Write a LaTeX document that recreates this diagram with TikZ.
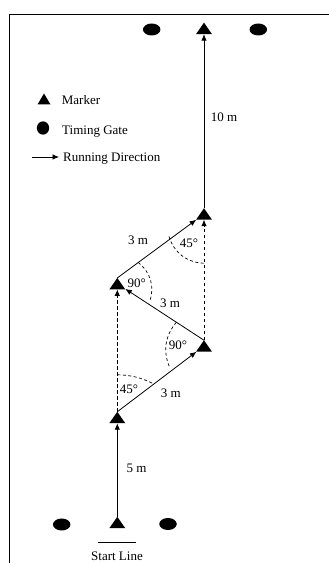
\documentclass[tikz,border=0pt]{standalone}
\usepackage{fontspec}
\setmainfont{Liberation Serif}
\usetikzlibrary{arrows.meta,shapes.geometric,calc}
\begin{document}
\begin{tikzpicture}[x=1pt,y=1pt,
  tri/.style={minimum width=16pt, minimum height=11.5pt, inner sep=0pt, outer sep=0pt,
    path picture={\fill (path picture bounding box.south west) -- (path picture bounding box.south east) -- (path picture bounding box.north) -- cycle;}},
  gate/.style={ellipse, fill, minimum width=17.5pt, minimum height=12pt, inner sep=0pt},
  lbl/.style={inner sep=0pt, text height=8.8pt, text depth=0pt, font=\fontsize{13}{15}\selectfont},
  run/.style={line width=0.8pt, -{Latex[length=6.5pt,width=5.5pt]}},
  guide/.style={run, dash pattern=on 3.5pt off 2.5pt},
  arcd/.style={line width=0.7pt, dash pattern=on 3pt off 2.5pt},
  frame/.style={line width=0.9pt}
]
\useasboundingbox (0,0) rectangle (329,563);
\fill[white] (0,0) rectangle (329,563);
\draw[frame] (9,-2) -- (9,549) -- (331,549);

% markers
\node[tri] (mTop) at (204,534.6) {};
\node[tri] (mUR) at (204,349) {};
\node[tri] (mL) at (117.3,279.3) {};
\node[tri] (mLR) at (204,217) {};
\node[tri] (mLL) at (117.3,145.5) {};
\node[tri] (mS) at (117.3,40.5) {};

% timing gates
\node[gate] (gTL) at (151.7,533.5) {};
\node[gate] (gTR) at (258.3,533.5) {};
\node[gate] (gBL) at (61.7,38.5) {};
\node[gate] (gBR) at (168,39) {};

% start line
\coordinate (sL) at (98,20.3);
\coordinate (sR) at (136,20.3);
\draw[line width=1pt] (sL) -- (sR);
\node[lbl, anchor=base] (startlbl) at (117,2.5) {Start Line};

% route
\draw[run] (mS.north) -- (mLL.south);
\draw[run] (mLL.north) -- (mLR);
\draw[guide] (mLL.north) -- (mL.south);
\draw[run] (mLR.north) -- (mL);
\draw[guide] (mLR.north) -- (mUR.south);
\draw[run] (mL.north) -- (mUR);
\draw[run] (mUR.north) -- (mTop.south);

% angle arcs
\coordinate (A1) at ($(mLL.north)!37pt!(mL.south)$);
\coordinate (B1) at ($(mLL.north)!46pt!(mLR)$);
\draw[arcd] (A1) to[bend left=12] (B1);
\coordinate (A2) at ($(mLR.north)!33pt!(mL)$);
\coordinate (B2) at ($(mLR.north)!44pt!(mLL.north)$);
\draw[arcd] (A2) to[bend right=32] (B2);
\coordinate (A3) at ($(mL.north)!26pt!(mUR)$);
\coordinate (B3) at ($(mL.north)!40pt!(mLR.north)$);
\draw[arcd] (A3) to[bend left=35] (B3);
\coordinate (A4) at ($(mUR.north)!45pt!(mL.north)$);
\coordinate (B4) at ($(mUR.north)!55pt!(mLR.north)$);
\draw[arcd] (A4) to[bend right=35] (B4);

% labels
\node[lbl] (l45a) at (129,174) {45°};
\node[lbl] (l3a) at (170.7,170) {3 m};
\node[lbl] (l90a) at (178,218) {90°};
\node[lbl] (l3b) at (170,260) {3 m};
\node[lbl] (l90b) at (136.7,280) {90°};
\node[lbl] (l3c) at (138,323) {3 m};
\node[lbl] (l45b) at (189,320) {45°};
\node[lbl] (l10) at (224,446) {10 m};
\node[lbl] (l5) at (136.5,95) {5 m};

% legend
\node[tri, minimum width=13pt, minimum height=11pt] (legM) at (44,464) {};
\node[lbl, anchor=west] (legMt) at (61.7,463) {Marker};
\node[gate, minimum width=12.3pt, minimum height=13.3pt] (legG) at (43,435) {};
\node[lbl, anchor=west] (legGt) at (62,433) {Timing Gate};
\coordinate (legA1) at (32,406);
\coordinate (legA2) at (59,406);
\draw[run] (legA1) -- (legA2);
\node[lbl, anchor=west] (legRt) at (63,406) {Running Direction};
\end{tikzpicture}
\end{document}
